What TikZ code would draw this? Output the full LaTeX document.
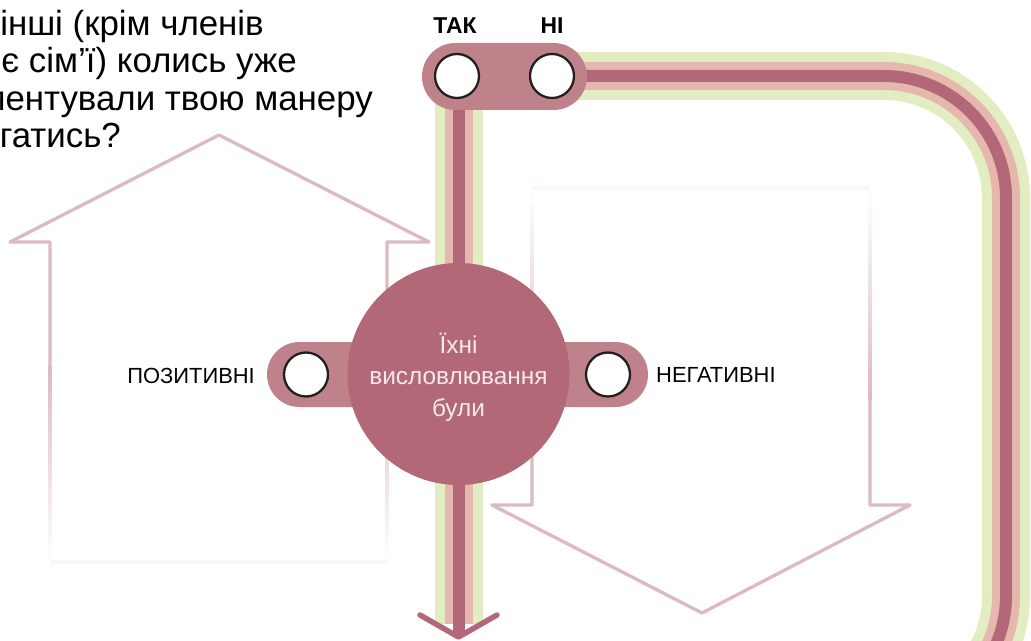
\documentclass[tikz,border=0pt]{standalone}
\usepackage{fontspec}
\setmainfont{Liberation Sans}
\definecolor{trkgreen}{HTML}{E3EDC2}
\definecolor{trkpink}{HTML}{E6B7AC}
\definecolor{trkdark}{HTML}{B26878}
\definecolor{pillc}{HTML}{BF828B}
\definecolor{hubc}{HTML}{B26877}
\definecolor{arrc}{HTML}{DBBAC0}
\definecolor{faintc}{HTML}{FBF6F7}
\definecolor{ringc}{HTML}{231F20}
\definecolor{hubtext}{HTML}{F6E8EB}
\tikzset{
  arrline/.style={draw=arrc, line width=3.3bp, line join=round, line cap=round},
  faintline/.style={draw=faintc, line width=3.3bp},
  trkg/.style={draw=trkgreen, line width=48bp},
  trkp/.style={draw=trkpink, line width=28bp},
  trkd/.style={draw=trkdark, line width=12bp},
  ring/.style={circle, fill=white, draw=ringc, line width=2.3bp, minimum size=44bp, inner sep=0pt},
  hub/.style={circle, fill=hubc, minimum size=222bp, inner sep=0pt},
  qtext/.style={inner sep=0pt, anchor=base east, font=\fontsize{35}{37}\selectfont},
  lbl/.style={inner sep=0pt, font=\fontsize{22}{26}\selectfont},
  toplbl/.style={inner sep=0pt, anchor=base, font=\fontsize{23}{26}\selectfont\bfseries},
  hubtxt/.style={inner sep=0pt, anchor=base, text=hubtext, font=\fontsize{24.5}{30}\selectfont},
}
\begin{document}
\begin{tikzpicture}[x=1bp,y=-1bp]
\useasboundingbox (0,0) rectangle (1031,641);
\fill[white] (0,0) rectangle (1031,641);

% up arrow (positive)
\draw[arrline] (50,365) -- (50,242) -- (10,242) -- (219,135) -- (429,242) -- (387,242) -- (387,365);
\shade[top color=arrc, bottom color=white] (48.35,365) rectangle (51.65,562);
\shade[top color=arrc, bottom color=white] (385.35,365) rectangle (388.65,562);
\draw[faintline] (50,562) -- (387,562);

% down arrow (negative)
\draw[arrline] (532,400) -- (532,505) -- (492,505) -- (702,613) -- (910,505) -- (870,505) -- (870,400);
\shade[top color=white, bottom color=arrc] (530.35,188) rectangle (533.65,400);
\shade[top color=white, bottom color=arrc] (868.35,188) rectangle (871.65,400);
\draw[faintline] (532,188) -- (870,188);

% tracks
\coordinate (tstart) at (458.5,76);
\coordinate (tcorner1) at (1006,76);
\coordinate (tcorner2) at (1006,718);
\coordinate (tend) at (700,718);
\coordinate (vend) at (458.5,624);
\coordinate (vtip) at (458.5,634);
\draw[trkg, rounded corners=122bp] (tstart) -- (tcorner1) -- (tcorner2) -- (tend);
\draw[trkg] (tstart) -- (vend);
\draw[trkp, rounded corners=122bp] (tstart) -- (tcorner1) -- (tcorner2) -- (tend);
\draw[trkp] (tstart) -- (vend);
\draw[trkd, rounded corners=122bp] (tstart) -- (tcorner1) -- (tcorner2) -- (tend);
\draw[trkd] (tstart) -- (vtip);
\coordinate (chl) at (420,615);
\coordinate (chtip) at (458.5,637);
\coordinate (chr) at (497,615);
\draw[draw=trkdark, line width=5.5bp, line cap=round, line join=round] (chl) -- (chtip) -- (chr);

% pills
\fill[pillc, rounded corners=33.5bp] (422,43) rectangle (587,110);
\fill[pillc, rounded corners=32.5bp] (267,342) rectangle (420,407);
\fill[pillc, rounded corners=32.5bp] (500,342) rectangle (648,407);

\node[ring] (tak) at (457,76) {};
\node[ring] (ni) at (552,76) {};
\node[ring] (pos) at (306,374.5) {};
\node[ring] (neg) at (608,374.5) {};

\node[hub] (hubc) at (458.5,374) {};
\node[hubtxt] (h1) at (458.5,353) {Їхні};
\node[hubtxt] (h2) at (458.5,384.5) {висловлювання};
\node[hubtxt] (h3) at (458.5,416) {були};

\node[toplbl] (ltak) at (455,34) {ТАК};
\node[toplbl] (lni) at (552,34) {НІ};
\node[lbl, anchor=base east] (lpos) at (255,383) {ПОЗИТИВНІ};
\node[lbl, anchor=base west] (lneg) at (656,382) {НЕГАТИВНІ};

\node[qtext] (q1) at (264,36) {інші (крім членів};
\node[qtext] (q2) at (297,73) {є сім’ї) колись уже};
\node[qtext] (q3) at (373,111) {ментували твою манеру};
\node[qtext] (q4) at (121,148) {гатись?};
\end{tikzpicture}
\end{document}
